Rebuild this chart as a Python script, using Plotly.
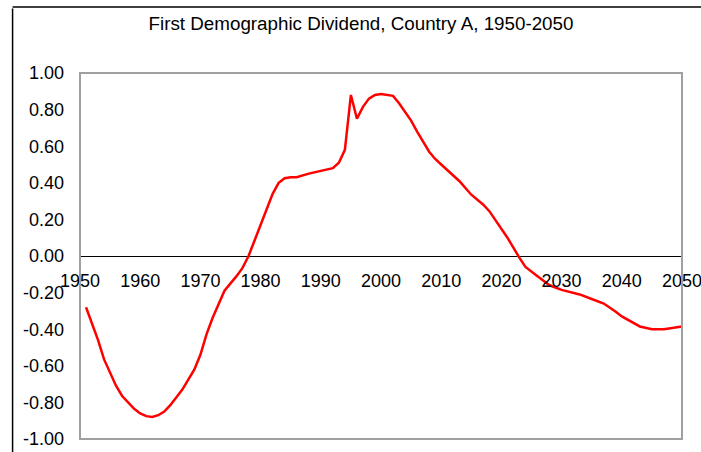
import plotly.graph_objects as go

# First demographic dividend
years = [1951, 1952, 1953, 1954, 1955, 1956, 1957, 1958, 1959, 1960, 1961, 1962, 1963, 1964,
         1965, 1967, 1969, 1970, 1971, 1972, 1974, 1976, 1977, 1978, 1980, 1982, 1983, 1984,
         1985, 1986, 1988, 1990, 1992, 1993, 1994, 1995, 1996, 1997, 1998, 1999,
         2000, 2002, 2003, 2005, 2006, 2008, 2009, 2010, 2013, 2015, 2017, 2018,
         2020, 2021, 2023, 2024, 2026, 2028, 2030, 2033, 2035, 2037, 2039, 2040,
         2043, 2045, 2047, 2050]
dividend = [-0.28, -0.37, -0.46, -0.565, -0.64, -0.71, -0.765, -0.80, -0.835, -0.86, -0.875, -0.88, -0.87, -0.85,
            -0.815, -0.73, -0.62, -0.54, -0.43, -0.34, -0.19, -0.11, -0.065, 0.00, 0.165, 0.34, 0.40, 0.425,
            0.43, 0.43, 0.45, 0.465, 0.48, 0.51, 0.58, 0.88, 0.75, 0.815, 0.86, 0.88,
            0.885, 0.875, 0.835, 0.74, 0.68, 0.57, 0.53, 0.50, 0.41, 0.335, 0.28, 0.245,
            0.145, 0.10, -0.01, -0.06, -0.11, -0.16, -0.185, -0.21, -0.235, -0.26, -0.305, -0.33,
            -0.385, -0.40, -0.40, -0.385]

x_ticks = [1950, 1960, 1970, 1980, 1990, 2000, 2010, 2020, 2030, 2040, 2050]
y_ticks = [-1.0, -0.8, -0.6, -0.4, -0.2, 0.0, 0.2, 0.4, 0.6, 0.8, 1.0]
y_labels = ["-1.00", "-0.80", "-0.60", "-0.40", "-0.20", "0.00",
            "0.20", "0.40", "0.60", "0.80", "1.00"]

FONT = "Liberation Sans, Arial, sans-serif"

fig = go.Figure(go.Scatter(x=years, y=dividend, mode="lines",
                           line=dict(color="#ff0000", width=2.5),
                           showlegend=False, hoverinfo="x+y"))

fig.update_layout(
    width=701, height=452,
    margin=dict(l=80, r=19, t=73, b=13),
    paper_bgcolor="white", plot_bgcolor="white",
    font=dict(family=FONT, size=18, color="black"),
    title=dict(text="First Demographic Dividend, Country A, 1950-2050",
               font=dict(family=FONT, size=18.8, color="black"),
               xref="paper", x=0.4668, xanchor="center",
               yref="container", y=0.949, yanchor="middle"),
    xaxis=dict(range=[1950, 2050], tickvals=x_ticks, ticktext=[str(v) for v in x_ticks],
               showgrid=False, zeroline=False, showline=False, ticks="",
               anchor="free", position=0.5, ticklabelstandoff=12, automargin=False,
               ticklabeloverflow="allow"),
    yaxis=dict(range=[-1, 1], tickvals=y_ticks, ticktext=y_labels,
               showgrid=False, zeroline=True, zerolinecolor="black", zerolinewidth=1,
               showline=False, ticks="", ticklabelstandoff=15, automargin=False,
               ticklabeloverflow="allow"),
)

# gray plot-area frame
fig.add_shape(type="rect", xref="paper", yref="paper", x0=0, x1=1, y0=0, y1=1,
              line=dict(color="#a0a0a0", width=2), layer="above")
# black outer chart frame: only its left and top edges fall inside the picture
fig.add_shape(type="line", xref="paper", yref="paper", x0=-0.112, x1=-0.112, y0=-0.1, y1=1.176,
              line=dict(color="black", width=1.5), layer="above")
# top edge placed in pixels above the plot area
fig.add_shape(type="line", xref="paper", yref="paper", ysizemode="pixel", yanchor=1,
              x0=-0.112, x1=1.1, y0=66, y1=66,
              line=dict(color="black", width=1.5), layer="above")

# drop the default 8px page margin so the figure fills the window
fig.write_html("out.html", config={"displayModeBar": False},
               post_script="document.body.style.margin='0';")
